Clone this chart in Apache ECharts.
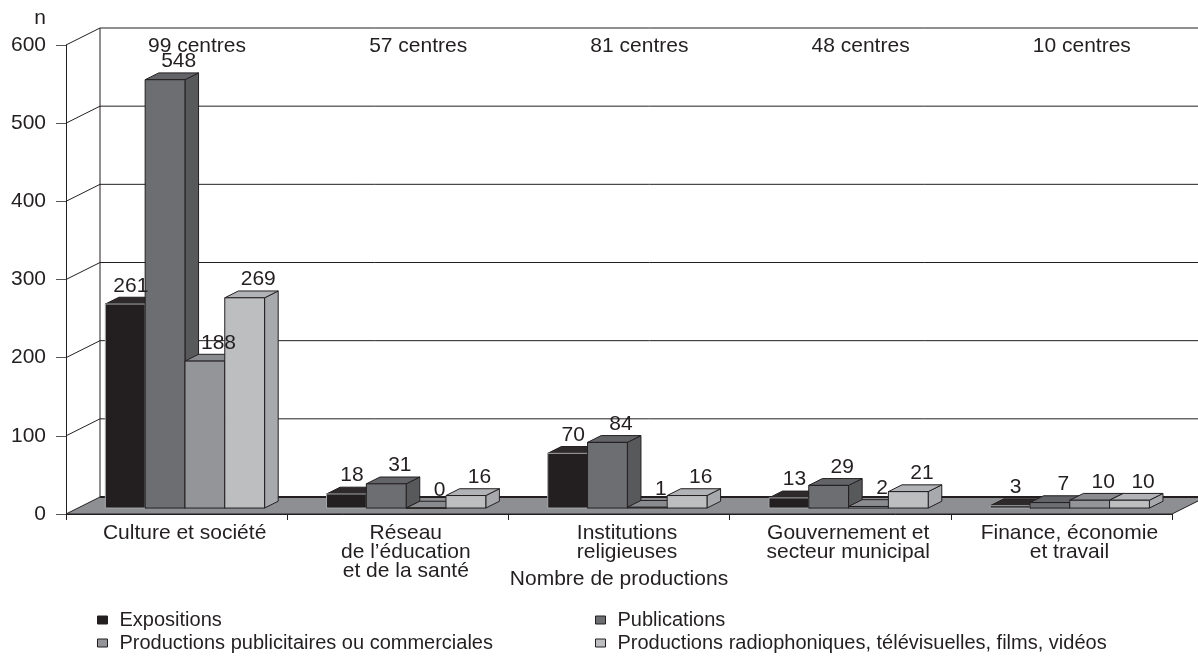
<!DOCTYPE html>
<html>
<head>
<meta charset="utf-8">
<script src="https://cdn.jsdelivr.net/npm/echarts@6/dist/echarts.min.js"></script>
<style>
  html, body { margin: 0; background: #fff; }
  #chart { width: 1198px; height: 656px; }
</style>
</head>
<body>
<div id="chart"></div>
<script>
// data
var categories = ['Culture et société', 'Réseau\nde l\u2019éducation\net de la santé', 'Institutions\nreligieuses', 'Gouvernement et\nsecteur municipal', 'Finance, économie\net travail'];
var centres = [99, 57, 81, 48, 10];
var names = ['Expositions', 'Publications', 'Productions publicitaires ou commerciales', 'Productions radiophoniques, télévisuelles, films, vidéos'];
var expositions = [261, 18, 70, 13, 3];
var publications = [548, 31, 84, 29, 7];
var publicitaires = [188, 0, 1, 2, 10];
var radio = [269, 16, 16, 21, 10];
var yTicks = [0, 100, 200, 300, 400, 500, 600];

var values = [expositions, publications, publicitaires, radio];
var faces = [
  { front: '#231f20', top: '#2e2a2b', side: '#231f20' },
  { front: '#6d6e71', top: '#636467', side: '#58595b' },
  { front: '#939598', top: '#898b8e', side: '#808285' },
  { front: '#bcbec0', top: '#b1b3b6', side: '#a7a9ac' }
];
var labelShift = [-8, 0, 0, 0];
var ink = '#231f20';
var font = '"Liberation Sans", Arial, sans-serif';
var fs = 21;

// depth of the 3d box and where the bars sit inside it
var DX = 34, DY = -17;
var D0 = 0.35, D1 = 0.75;

function barBox(api, cat, v, s) {
  var base = api.coord([cat, 0]);
  var top = api.coord([cat, v]);
  var bw = api.size([1, 0])[0];
  var w = bw * 0.18;
  var x = base[0] - 2 * w + s * w - bw * 0.016 + D0 * DX;
  return {
    x: x, w: w,
    yb: base[1] + D0 * DY, yt: top[1] + D0 * DY,
    dx: (D1 - D0) * DX, dy: (D1 - D0) * DY
  };
}

function renderBar(s) {
  return function (params, api) {
    var b = barBox(api, api.value(0), api.value(1), s);
    var c = faces[s];
    var edge = s === 0 ? '#a7a9ac' : ink;
    return {
      type: 'group',
      children: [
        { type: 'polygon',
          shape: { points: [[b.x + b.w, b.yt], [b.x + b.w + b.dx, b.yt + b.dy], [b.x + b.w + b.dx, b.yb + b.dy], [b.x + b.w, b.yb]] },
          style: { fill: c.side, stroke: ink, lineWidth: 1 } },
        { type: 'polygon',
          shape: { points: [[b.x, b.yt], [b.x + b.dx, b.yt + b.dy], [b.x + b.w + b.dx, b.yt + b.dy], [b.x + b.w, b.yt]] },
          style: { fill: c.top, stroke: ink, lineWidth: 1 } },
        { type: 'rect',
          shape: { x: b.x, y: b.yt, width: b.w, height: b.yb - b.yt },
          style: { fill: c.front, stroke: edge, lineWidth: 1 } }
      ]
    };
  };
}

function renderLabel(params, api) {
  var s = api.value(2), v = api.value(1);
  var b = barBox(api, api.value(0), v, s);
  return {
    type: 'text',
    x: b.x + b.w / 2 + b.dx + labelShift[s],
    y: b.yt + b.dy - 1,
    style: { text: String(v), fill: ink, fontSize: fs, fontFamily: font, align: 'center', verticalAlign: 'bottom' }
  };
}

function renderWall(params, api) {
  var v = api.value(1);
  var bw = api.size([1, 0])[0];
  var p = api.coord([0, v]);
  var q = api.coord([categories.length - 1, v]);
  var xl = p[0] - bw / 2, xr = q[0] + bw / 2, y = p[1];
  var line = { stroke: ink, lineWidth: 1 };
  var children = [];
  if (v === 0) {
    var topY = api.coord([0, yTicks[yTicks.length - 1]])[1];
    children.push({ type: 'line', shape: { x1: xl + DX, y1: y + DY, x2: xl + DX, y2: topY + DY }, style: line });
    children.push({ type: 'polygon',
      shape: { points: [[xl, y], [xr, y], [xr + DX, y + DY], [xl + DX, y + DY]] },
      style: { fill: '#8d8f92', stroke: ink, lineWidth: 1 } });
    children.push({ type: 'line', shape: { x1: xl + DX, y1: y + DY, x2: xr + DX, y2: y + DY }, style: { stroke: ink, lineWidth: 2 } });
  } else {
    children.push({ type: 'line', shape: { x1: xl, y1: y, x2: xl + DX, y2: y + DY }, style: line });
    children.push({ type: 'line', shape: { x1: xl + DX, y1: y + DY, x2: xr + DX, y2: y + DY }, style: line });
  }
  return { type: 'group', children: children };
}

function renderCentres(params, api) {
  var p = api.coord([api.value(0), api.value(1)]);
  return {
    type: 'text',
    x: p[0] + 0.6 * DX,
    y: p[1] + 1,
    style: { text: api.value(2) + ' centres', fill: ink, fontSize: fs, fontFamily: font, align: 'center', verticalAlign: 'middle' }
  };
}

var series = [
  { type: 'custom', name: 'wall', z: 1, silent: true, clip: false, renderItem: renderWall,
    data: yTicks.map(function (v) { return [0, v]; }) }
];
values.forEach(function (arr, s) {
  series.push({
    type: 'custom', name: names[s], z: 2, clip: false,
    itemStyle: { color: faces[s].front },
    renderItem: renderBar(s),
    data: arr.map(function (v, i) { return [i, v]; })
  });
});
var labelData = [];
values.forEach(function (arr, s) {
  arr.forEach(function (v, i) { labelData.push([i, v, s]); });
});
series.push({ type: 'custom', name: 'labels', z: 3, silent: true, clip: false, renderItem: renderLabel, data: labelData });
series.push({ type: 'custom', name: 'centres', z: 3, silent: true, clip: false, renderItem: renderCentres,
  data: centres.map(function (c, i) { return [i, yTicks[yTicks.length - 1], c]; }) });

var legendBase = {
  orient: 'vertical', top: 610, padding: 0, itemGap: 3,
  itemWidth: 10, itemHeight: 8, icon: 'rect', selectedMode: false,
  itemStyle: { borderColor: ink, borderWidth: 1 },
  textStyle: { color: ink, fontSize: 20, fontFamily: font, lineHeight: 20, padding: [0, 0, 0, 7] }
};

var chart = echarts.init(document.getElementById('chart'));
chart.setOption({
  animation: false,
  textStyle: { fontFamily: font },
  grid: { left: 66, right: 26, top: 45, bottom: 142 },
  xAxis: {
    type: 'category',
    data: categories,
    axisLine: { lineStyle: { color: ink, width: 1 } },
    axisTick: { show: true, length: 6, lineStyle: { color: ink } },
    axisLabel: { color: ink, fontSize: fs, lineHeight: 19, margin: 10, padding: [0, 0, 0, 16], interval: 0 },
    name: 'Nombre de productions',
    nameLocation: 'middle',
    nameGap: 55,
    nameMoveOverlap: false,
    nameTextStyle: { color: ink, fontSize: fs }
  },
  yAxis: {
    type: 'value',
    min: 0, max: 600, interval: 100,
    axisLine: { show: true, lineStyle: { color: ink, width: 1 } },
    axisTick: { show: true, length: 10, lineStyle: { color: '#555' } },
    axisLabel: { color: ink, fontSize: fs, margin: 20 },
    splitLine: { show: false },
    name: 'n',
    nameLocation: 'end',
    nameGap: 16,
    nameTextStyle: { color: ink, fontSize: fs, align: 'right', padding: [0, 20, 0, 0] }
  },
  legend: [
    Object.assign({ left: 97, data: [names[0], names[2]] }, legendBase),
    Object.assign({ left: 595, data: [names[1], names[3]] }, legendBase)
  ],
  series: series
});
</script>
</body>
</html>
